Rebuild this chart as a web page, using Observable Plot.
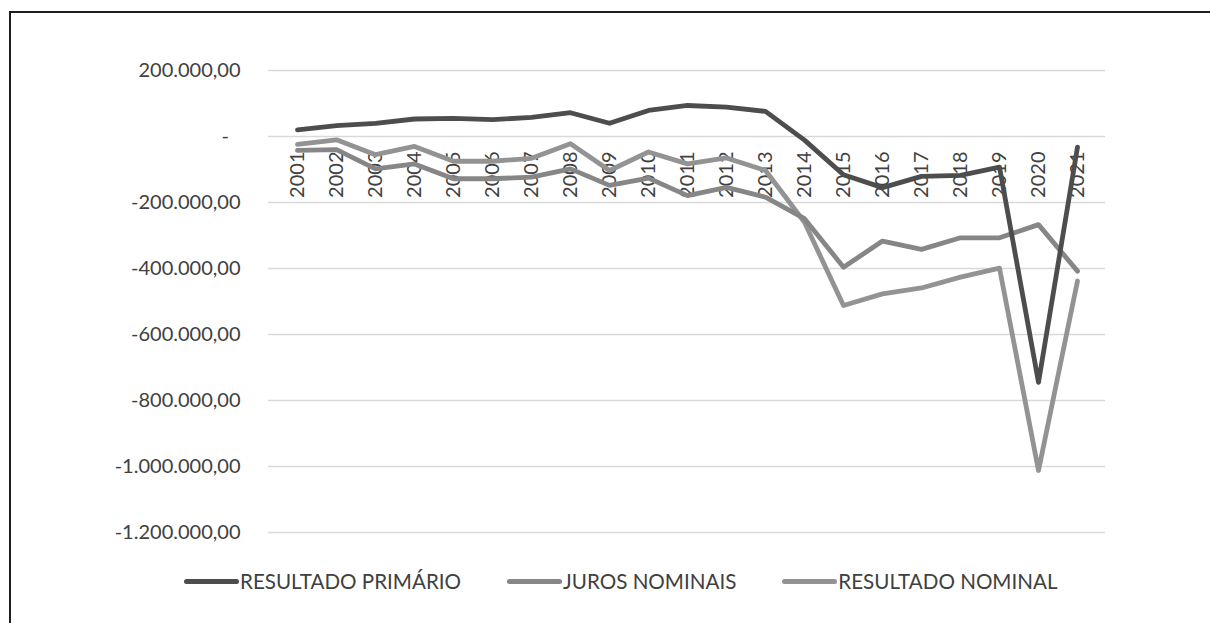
<!DOCTYPE html>
<html>
<head>
<meta charset="utf-8">
<script src="https://cdn.jsdelivr.net/npm/d3@7"></script>
<script src="https://cdn.jsdelivr.net/npm/@observablehq/plot@0.6"></script>
<style>
  html, body { margin: 0; padding: 0; background: #fff; overflow: hidden; }
  body { width: 1210px; height: 623px; position: relative; font-family: Lato, "Open Sans", sans-serif; }
  #frame { position: absolute; left: 9px; top: 11px; width: 1300px; height: 700px;
           border-top: 2px solid #1e1e1e; border-left: 2px solid #1e1e1e; pointer-events: none; }
  #legend { position: absolute; left: 184px; top: 562px; height: 38px; display: flex; align-items: center;
            gap: 46px; font-size: 20.6px; color: #404040; }
  .item { display: flex; align-items: center; }
  .sw { width: 55px; height: 5px; border-radius: 3px; margin-right: 1px; }
</style>
</head>
<body>
<div id="chart"></div>
<div id="legend"></div>
<div id="frame"></div>
<script>
// Resultados fiscais anuais (R$ milhões)
const years = [2001, 2002, 2003, 2004, 2005, 2006, 2007, 2008, 2009, 2010, 2011,
               2012, 2013, 2014, 2015, 2016, 2017, 2018, 2019, 2020, 2021];
const resultadoPrimario = [20000, 33000, 40000, 53000, 55000, 51000, 58000, 72000, 40000, 79000, 94000,
                           89000, 76000, -11000, -116000, -155000, -121000, -118000, -93000, -745000, -32000];
const jurosNominais = [-42000, -40000, -98000, -83000, -128000, -128000, -123000, -98000, -148000, -126000, -179000,
                       -154000, -184000, -249000, -396000, -317000, -342000, -307000, -307000, -267000, -408000];
const resultadoNominal = [-24000, -10000, -55000, -30000, -75000, -75000, -66000, -22000, -103000, -47000, -83000,
                          -65000, -103000, -260000, -512000, -477000, -459000, -426000, -399000, -1012000, -438000];
const yTicks = [200000, 0, -200000, -400000, -600000, -800000, -1000000, -1200000];

const seriesNames = ["RESULTADO PRIMÁRIO", "JUROS NOMINAIS", "RESULTADO NOMINAL"];
const seriesColors = ["#4d4d4d", "#868686", "#939393"];

const rows = (name, values) => years.map((year, i) => ({year, value: values[i], serie: name}));
const primario = rows(seriesNames[0], resultadoPrimario);
const juros = rows(seriesNames[1], jurosNominais);
const nominal = rows(seriesNames[2], resultadoNominal);

const ptBR = d3.formatLocale({decimal: ",", thousands: ".", grouping: [3], currency: ["", ""], minus: "-"});
const fmt = ptBR.format(",.2f");
const tickLabel = d => d === 0 ? "-\u2007" : fmt(d);

const lineStyle = {x: "year", y: "value", strokeWidth: 4.8, strokeLinejoin: "round", strokeLinecap: "round"};

const chart = Plot.plot({
  width: 1210,
  height: 560,
  marginTop: 70,
  marginBottom: 28,
  marginLeft: 268,
  marginRight: 105,
  style: {fontFamily: "Lato, 'Open Sans', sans-serif", fontSize: "20px", color: "#404040", background: "transparent"},
  x: {type: "point", domain: years, padding: 0.5, axis: null},
  y: {domain: [-1200000, 200000], axis: null},
  marks: [
    Plot.ruleY(yTicks, {stroke: "#d9d9d9", strokeWidth: 1.5}),
    Plot.axisY({ticks: yTicks, tickSize: 0, tickPadding: 28, tickFormat: tickLabel, label: null,
                fill: "#404040", fontSize: 20}),
    Plot.text(years, {x: d => d, y: () => 0, text: d => String(d), rotate: -90, textAnchor: "end",
                      lineAnchor: "middle", dy: 15, fill: "#404040", fontSize: 20}),
    Plot.line(nominal, {...lineStyle, stroke: seriesColors[2]}),
    Plot.line(juros, {...lineStyle, stroke: seriesColors[1]}),
    Plot.line(primario, {...lineStyle, stroke: seriesColors[0]})
  ]
});
document.getElementById("chart").append(chart);

const legend = document.getElementById("legend");
seriesNames.forEach((name, i) => {
  const item = document.createElement("div");
  item.className = "item";
  const sw = document.createElement("span");
  sw.className = "sw";
  sw.style.background = seriesColors[i];
  const label = document.createElement("span");
  label.textContent = name;
  item.append(sw, label);
  legend.append(item);
});
</script>
</body>
</html>
